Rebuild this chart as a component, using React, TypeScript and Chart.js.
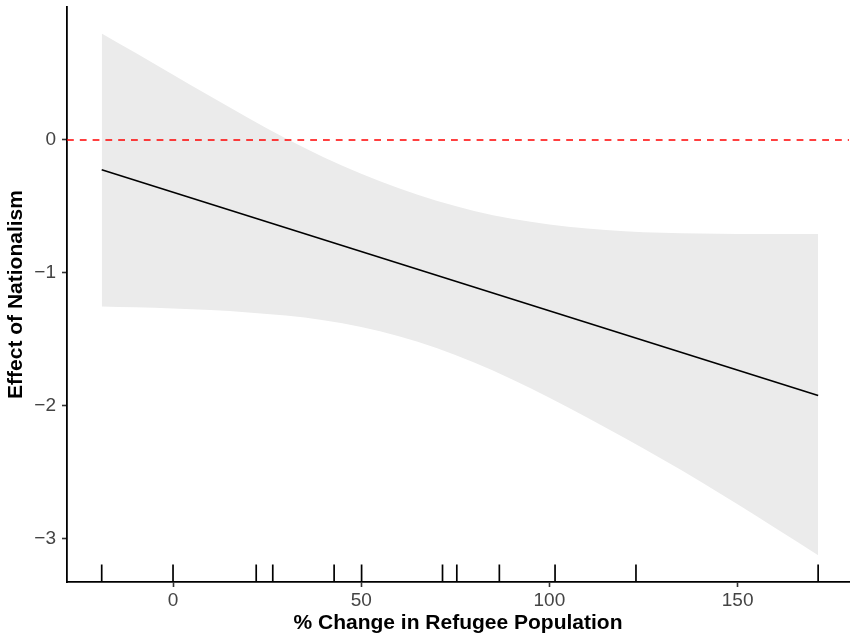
import React, { useEffect, useRef } from "react";
import { Chart, registerables } from "chart.js";

Chart.register(...registerables);

// x values at which the confidence band was read
const bandX = [-18.95, -10, 0, 10, 20, 30, 40, 50, 60, 70, 80, 90, 100, 110, 120, 130, 140, 150, 160, 171.4];
const bandUpper = [0.801, 0.655, 0.491, 0.327, 0.165, 0.01, -0.13, -0.254, -0.364, -0.458, -0.534, -0.593, -0.636, -0.666, -0.686, -0.698, -0.704, -0.707, -0.708, -0.708];
const bandLower = [-1.252, -1.258, -1.267, -1.279, -1.297, -1.321, -1.356, -1.407, -1.476, -1.565, -1.674, -1.8, -1.94, -2.088, -2.242, -2.402, -2.567, -2.741, -2.918, -3.123];

// fitted marginal-effect line
const fitX = [-18.95, 171.4];
const fitY = [-0.225, -1.922];

// rug (observed values of the moderator)
const rugX = [-18.95, 0, 22.1, 26.5, 42.8, 50.1, 71.6, 75.4, 86.7, 101.5, 123.0, 171.4];

// axes
const xTicks = [0, 50, 100, 150];
const yTicks = [-3, -2, -1, 0];
const xRange = [-28.17, 179.6];
const yRange = [-3.325, 1.0];
const refLineY = 0;

const xTitle = "% Change in Refugee Population";
const yTitle = "Effect of Nationalism";

const FONT = "'Liberation Sans', Arial, Helvetica, sans-serif";

const rugPlugin = {
  id: "rug",
  afterDatasetsDraw(chart: any) {
    const { ctx, chartArea, scales } = chart;
    const xs = scales.x;
    ctx.save();
    ctx.strokeStyle = "#000000";
    ctx.lineWidth = 1.7;
    for (const v of rugX) {
      const px = xs.getPixelForValue(v);
      ctx.beginPath();
      ctx.moveTo(px, chartArea.bottom);
      ctx.lineTo(px, chartArea.bottom - 17.5);
      ctx.stroke();
    }
    ctx.restore();
  },
};

export default function App() {
  const ref = useRef<HTMLCanvasElement | null>(null);

  useEffect(() => {
    if (!ref.current) return;
    const chart = new Chart(ref.current, {
      type: "line",
      data: {
        datasets: [
          {
            label: "fit",
            data: fitX.map((x, i) => ({ x, y: fitY[i] })),
            borderColor: "#000000",
            borderWidth: 1.6,
            pointRadius: 0,
            fill: false,
            order: 0,
          },
          {
            label: "zero",
            data: [
              { x: xRange[0], y: refLineY },
              { x: xRange[1], y: refLineY },
            ],
            borderColor: "#ff0000",
            borderWidth: 1.6,
            borderDash: [6.8, 6],
            pointRadius: 0,
            fill: false,
            order: 1,
          },
          {
            label: "upper",
            data: bandX.map((x, i) => ({ x, y: bandUpper[i] })),
            borderWidth: 0,
            borderColor: "rgba(0,0,0,0)",
            backgroundColor: "#ebebeb",
            pointRadius: 0,
            fill: "+1",
            cubicInterpolationMode: "monotone",
            order: 2,
          },
          {
            label: "lower",
            data: bandX.map((x, i) => ({ x, y: bandLower[i] })),
            borderWidth: 0,
            borderColor: "rgba(0,0,0,0)",
            pointRadius: 0,
            fill: false,
            cubicInterpolationMode: "monotone",
            order: 3,
          },
        ],
      },
      options: {
        animation: false,
        responsive: false,
        devicePixelRatio: 1,
        layout: { padding: { top: 7, right: 3, left: 0, bottom: 0 } },
        plugins: {
          legend: { display: false },
          tooltip: { enabled: false },
        },
        scales: {
          x: {
            type: "linear",
            min: xRange[0],
            max: xRange[1],
            afterBuildTicks: (axis: any) => {
              axis.ticks = xTicks.map((v) => ({ value: v }));
            },
            afterFit: (axis: any) => {
              axis.height = 56;
              axis.paddingLeft = 0;
              axis.paddingRight = 0;
            },
            grid: {
              display: true,
              drawOnChartArea: false,
              drawTicks: true,
              tickLength: 5,
              tickColor: "#333333",
              tickWidth: 1.6,
            },
            border: { display: true, color: "#000000", width: 1.8 },
            ticks: {
              color: "#444444",
              font: { family: FONT, size: 19 },
              padding: 2,
              maxRotation: 0,
              callback: (v: any) => String(v),
            },
            title: {
              display: true,
              text: xTitle,
              color: "#000000",
              font: { family: FONT, size: 21, weight: "bold" },
              padding: { top: 0, bottom: 2 },
            },
          },
          y: {
            type: "linear",
            min: yRange[0],
            max: yRange[1],
            afterBuildTicks: (axis: any) => {
              axis.ticks = yTicks.map((v) => ({ value: v }));
            },
            afterFit: (axis: any) => {
              axis.width = 67;
              axis.paddingTop = 0;
              axis.paddingBottom = 0;
            },
            grid: {
              display: true,
              drawOnChartArea: false,
              drawTicks: true,
              tickLength: 5,
              tickColor: "#333333",
              tickWidth: 1.6,
            },
            border: { display: true, color: "#000000", width: 1.8 },
            ticks: {
              color: "#444444",
              font: { family: FONT, size: 19 },
              padding: 6,
              callback: (v: any) => (v < 0 ? "\u2212" + Math.abs(v) : String(v)),
            },
            title: {
              display: true,
              text: yTitle,
              color: "#000000",
              font: { family: FONT, size: 21, weight: "bold" },
              padding: { top: 4, bottom: 0 },
            },
          },
        },
      },
      plugins: [rugPlugin],
    } as any);
    return () => chart.destroy();
  }, []);

  return (
    <div style={{ position: "absolute", left: 0, top: 0, width: 852, height: 638, background: "#ffffff" }}>
      <canvas ref={ref} width={852} height={638} style={{ display: "block", width: 852, height: 638 }} />
    </div>
  );
}
